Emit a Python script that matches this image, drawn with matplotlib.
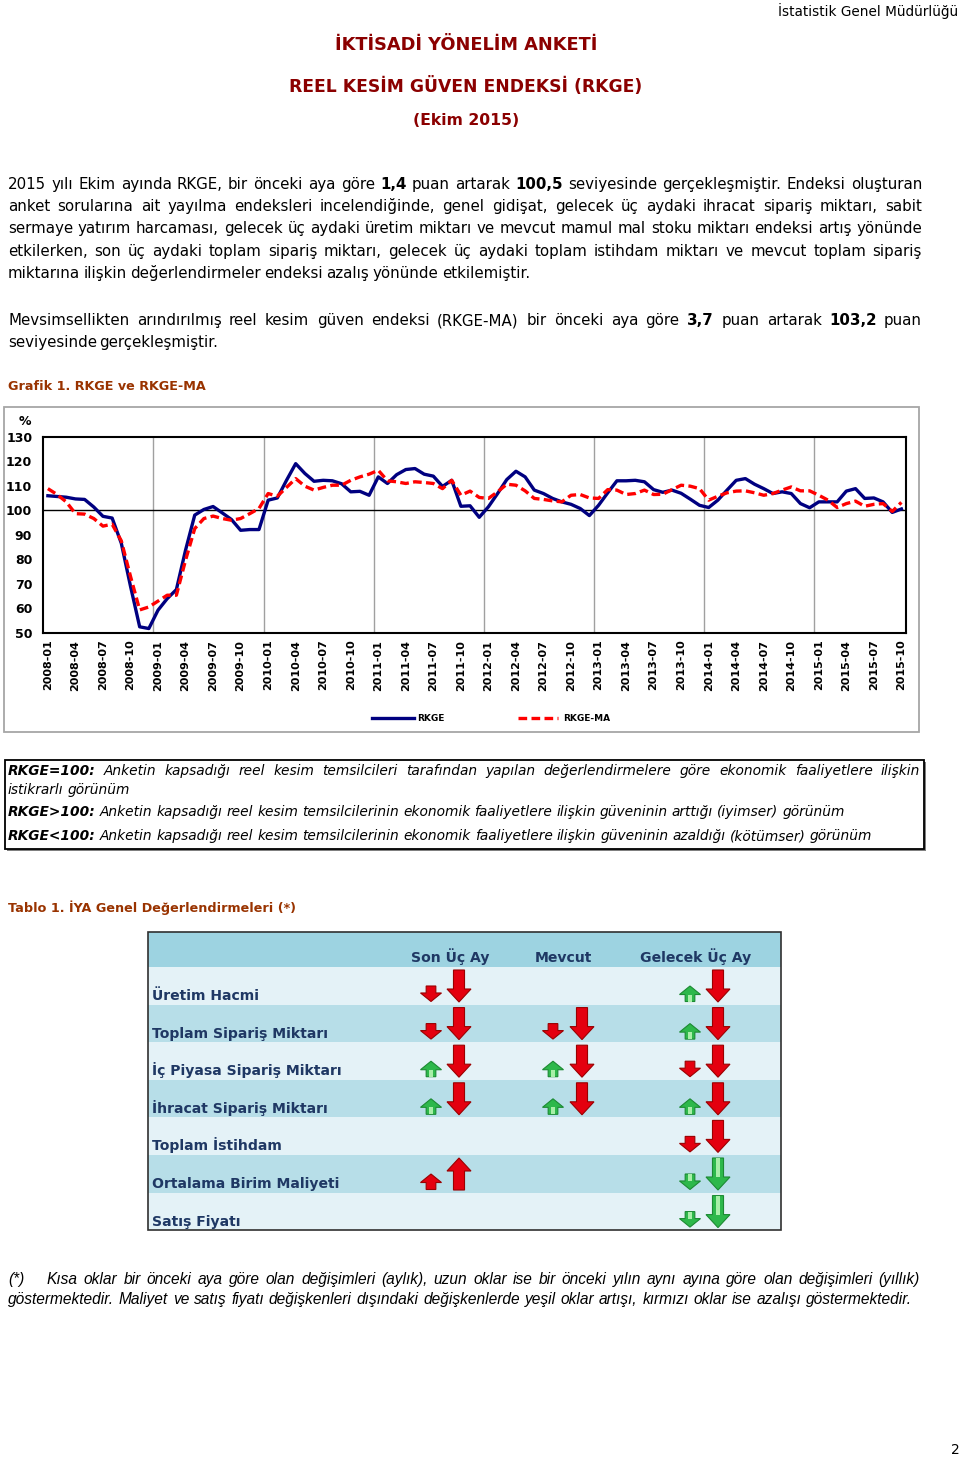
import matplotlib
matplotlib.use('Agg')
import matplotlib.pyplot as plt
from matplotlib.patches import Rectangle, Polygon
import pandas as pd

W, H = 960, 1458

# ---- chart data (2008-01 .. 2015-10) ----
months = pd.date_range('2008-01', periods=94, freq='MS').strftime('%Y-%m').tolist()
rkge = [105.9, 105.6, 105.3, 104.6, 104.4, 101.3, 97.5, 96.8, 86.5, 69.0,
        52.4, 51.7, 59.2, 63.9, 67.6, 83.7, 98.0, 100.3, 101.5, 98.9,
        96.2, 91.8, 92.1, 92.1, 104.1, 105.0, 112.2, 119.0, 115.0, 111.8,
        112.2, 112.0, 110.8, 107.5, 107.7, 106.1, 113.6, 110.9, 114.5, 116.6,
        117.0, 114.7, 113.9, 109.7, 112.2, 101.6, 101.8, 97.1, 101.4, 106.8,
        112.5, 115.9, 113.6, 108.2, 106.8, 104.8, 103.4, 102.4, 100.7, 97.8,
        102.0, 107.1, 112.0, 112.0, 112.2, 111.6, 108.4, 107.3, 108.2, 106.9,
        104.5, 102.0, 101.1, 104.1, 108.2, 112.2, 112.9, 110.6, 108.8, 106.8,
        107.5, 106.8, 102.7, 101.0, 103.4, 103.4, 103.4, 107.8, 108.8, 104.8,
        105.0, 103.4, 99.1, 100.5]
rkge_ma = [108.8, 106.4, 103.4, 98.6, 98.4, 96.6, 93.5, 94.3, 87.5, 73.0,
           59.3, 60.5, 62.9, 65.3, 65.3, 79.6, 92.5, 96.6, 97.6, 96.6,
           95.9, 96.6, 98.6, 100.7, 106.8, 105.7, 109.3, 112.9, 109.8, 108.2,
           109.3, 110.2, 110.2, 112.2, 113.6, 114.7, 116.3, 112.0, 111.6, 110.9,
           111.6, 111.3, 110.9, 108.8, 112.2, 106.1, 107.8, 105.2, 104.8, 107.5,
           110.6, 110.2, 107.9, 104.8, 104.4, 103.8, 103.4, 106.1, 106.4, 105.0,
           104.8, 108.4, 108.2, 106.4, 106.8, 108.2, 106.4, 106.5, 108.4, 110.2,
           109.8, 108.8, 104.1, 105.7, 107.1, 107.8, 107.9, 107.1, 106.1, 106.8,
           108.2, 109.5, 107.9, 107.9, 106.1, 104.1, 101.1, 102.7, 103.7, 101.6,
           102.4, 102.7, 99.5, 103.2]
y_ticks = [50, 60, 70, 80, 90, 100, 110, 120, 130]

# ---- table data: r/g = red/green, u/d = up/down, '' = no arrow ----
table_cols = ['Son Üç Ay', 'Mevcut', 'Gelecek Üç Ay']
table_rows = ['Üretim Hacmi', 'Toplam Sipariş Miktarı', 'İç Piyasa Sipariş Miktarı',
              'İhracat Sipariş Miktarı', 'Toplam İstihdam', 'Ortalama Birim Maliyeti',
              'Satış Fiyatı']
son_short = ['rd', 'rd', 'gu', 'gu', '', 'ru', '']
son_long = ['rd', 'rd', 'rd', 'rd', '', 'ru', '']
mevcut_short = ['', 'rd', 'gu', 'gu', '', '', '']
mevcut_long = ['', 'rd', 'rd', 'rd', '', '', '']
gelecek_short = ['gu', 'gu', 'rd', 'gu', 'rd', 'gd', 'gd']
gelecek_long = ['rd', 'rd', 'rd', 'rd', 'rd', 'gd', 'gd']

# ---- texts ----
para1 = ['2015 yılı Ekim ayında RKGE, bir önceki aya göre **1,4** puan artarak **100,5** seviyesinde gerçekleşmiştir. Endeksi oluşturan',
         'anket sorularına ait yayılma endeksleri incelendiğinde, genel gidişat, gelecek üç aydaki ihracat sipariş miktarı, sabit',
         'sermaye yatırım harcaması, gelecek üç aydaki üretim miktarı ve mevcut mamul mal stoku miktarı endeksi artış yönünde',
         'etkilerken, son üç aydaki toplam sipariş miktarı, gelecek üç aydaki toplam istihdam miktarı ve mevcut toplam sipariş',
         'miktarına ilişkin değerlendirmeler endeksi azalış yönünde etkilemiştir.']
para1_end = [922, 922, 922, 922, 530]
para2 = ['Mevsimsellikten arındırılmış reel kesim güven endeksi (RKGE-MA) bir önceki aya göre **3,7** puan artarak **103,2** puan',
         'seviyesinde gerçekleşmiştir.']
para2_end = [922, 218]
defs = ['**RKGE=100:** Anketin kapsadığı reel kesim temsilcileri tarafından yapılan değerlendirmelere göre ekonomik faaliyetlere ilişkin',
        'istikrarlı görünüm',
        '**RKGE>100:** Anketin kapsadığı reel kesim temsilcilerinin ekonomik faaliyetlere ilişkin güveninin arttığı (iyimser) görünüm',
        '**RKGE<100:** Anketin kapsadığı reel kesim temsilcilerinin ekonomik faaliyetlere ilişkin güveninin azaldığı (kötümser) görünüm']
defs_end = [920, 130, 845, 872]
foot1 = 'Kısa oklar bir önceki aya göre olan değişimleri (aylık), uzun oklar ise bir önceki yılın aynı ayına göre olan değişimleri (yıllık)'
foot2 = 'göstermektedir. Maliyet ve satış fiyatı değişkenleri dışındaki değişkenlerde yeşil oklar artışı, kırmızı oklar ise azalışı göstermektedir.'

TITLE_C = '#8B0000'
LABEL_C = '#993300'
NAVY_T = '#1F3864'

fig = plt.figure(figsize=(W / 100, H / 100), dpi=100)
bg = fig.add_axes([0, 0, 1, 1])
bg.set_xlim(0, W)
bg.set_ylim(H, 0)
bg.axis('off')
renderer = fig.canvas.get_renderer()


def width_of(s, **kw):
    t = bg.text(0, 0, s, **kw)
    w = t.get_window_extent(renderer).width
    t.remove()
    return w


def fit_size(s, target, **kw):
    return 10 * target / width_of(s, fontsize=10, **kw)


def tokens(line):
    out = []
    for tok in line.split():
        if tok.startswith('**') and tok.endswith('**'):
            out.append((tok[2:-2], 'bold'))
        else:
            out.append((tok, 'normal'))
    return out


def natural(line, size, **kw):
    toks = tokens(line)
    sp = width_of('a a', fontsize=size, **kw) - width_of('aa', fontsize=size, **kw)
    return sum(width_of(w, fontsize=size, fontweight=wt, **kw) for w, wt in toks) + sp * (len(toks) - 1)


def draw_line(line, x0, x1, yb, size, **kw):
    toks = tokens(line)
    arts = [bg.text(0, yb, w, fontsize=size, fontweight=wt, va='baseline', ha='left', **kw)
            for w, wt in toks]
    ws = [a.get_window_extent(renderer).width for a in arts]
    gap = (x1 - x0 - sum(ws)) / (len(arts) - 1) if len(arts) > 1 else 0
    x = x0
    for a, w in zip(arts, ws):
        a.set_x(x)
        x += w + gap


# ---- header ----
bg.text(958, 11, 'İstatistik Genel Müdürlüğü', ha='right', va='center',
        fontsize=fit_size('İstatistik Genel Müdürlüğü', 180))
for s, y, wd in [('İKTİSADİ YÖNELİM ANKETİ', 45, 262),
                 ('REEL KESİM GÜVEN ENDEKSİ (RKGE)', 86, 351),
                 ('(Ekim 2015)', 120, 106)]:
    bg.text(466, y, s, ha='center', va='center', color=TITLE_C, fontweight='bold',
            fontsize=fit_size(s, wd, fontweight='bold'))

# ---- paragraphs ----
p_size = min(10.8, 10 * 914 / natural(para1[0], 10))
for i, line in enumerate(para1):
    draw_line(line, 8, para1_end[i], 189 + i * 22.2, p_size)
for i, line in enumerate(para2):
    draw_line(line, 8, para2_end[i], 325 + i * 22.2, p_size)

lab_size = fit_size('Grafik 1. RKGE ve RKGE-MA', 197, fontweight='bold')
bg.text(8, 386, 'Grafik 1. RKGE ve RKGE-MA', va='center', color=LABEL_C,
        fontweight='bold', fontsize=lab_size)

# ---- chart ----
bg.add_patch(Rectangle((3.5, 407), 915.5, 325, fill=False, ec='#A6A6A6', lw=1.3))
ax = fig.add_axes([43.3 / W, 1 - 632.7 / H, (906 - 43.3) / W, (632.7 - 436.7) / H])
ax.set_zorder(2)
xs = list(range(len(months)))
for k in range(12, len(months), 12):
    ax.axvline(k - 0.5, color='#A0A0A0', lw=1, zorder=1)
ax.axhline(100, color='black', lw=1, zorder=2)
ax.plot(xs, rkge, color='#000080', lw=2.4, zorder=3)
ax.plot(xs, rkge_ma, color='#FF0000', lw=2.4, dashes=(2.6, 1.3), zorder=4)
ax.set_xlim(-0.5, len(months) - 0.5)
ax.set_ylim(50, 130)
ax.set_yticks(y_ticks)
ax.set_yticklabels([str(v) for v in y_ticks], fontweight='bold', fontsize=9)
ax.set_xticks(xs[::3])
ax.set_xticklabels(months[::3], rotation=90, fontweight='bold', fontsize=8)
ax.tick_params(length=0)
ax.tick_params(axis='y', pad=8)
ax.tick_params(axis='x', pad=5)
for sp in ax.spines.values():
    sp.set_linewidth(1.5)
bg.text(25, 421, '%', ha='center', va='center', fontweight='bold', fontsize=9)

bg.plot([372, 414], [718, 718], color='#000080', lw=2.4)
bg.text(417, 718, 'RKGE', va='center', fontweight='bold', fontsize=6.5)
bg.plot([518, 558], [718, 718], color='#FF0000', lw=2.4, dashes=(2.6, 1.3))
bg.text(563, 718, 'RKGE-MA', va='center', fontweight='bold', fontsize=6.5)

# ---- definitions box ----
bg.add_patch(Rectangle((7, 762), 919, 89, fc='#808080', ec='none', zorder=1))
bg.add_patch(Rectangle((5, 760), 919, 89, fc='white', ec='black', lw=1.3, zorder=2))
d_size = 10 * 837 / natural(defs[2], 10, style='italic')
for i, line in enumerate(defs):
    yb = [775, 794, 816, 840][i]
    draw_line(line, 8, defs_end[i], yb, d_size, style='italic', zorder=3)

# ---- table ----
bg.text(8, 908, 'Tablo 1. İYA Genel Değerlendirmeleri (*)', va='center', color=LABEL_C,
        fontweight='bold', fontsize=lab_size)
tx0, tx1, ty0 = 148, 781, 932
hdr_h, row_h = 35, 37.6
bg.add_patch(Rectangle((tx0, ty0), tx1 - tx0, hdr_h, fc='#9DD3E1', ec='none'))
for r in range(len(table_rows)):
    top = ty0 + hdr_h + r * row_h
    bg.add_patch(Rectangle((tx0, top), tx1 - tx0, row_h,
                           fc='#E4F2F7' if r % 2 == 0 else '#B7DEE8', ec='none'))
bg.add_patch(Rectangle((tx0, ty0), tx1 - tx0, hdr_h + len(table_rows) * row_h,
                       fill=False, ec='#303030', lw=1.2))

h_size = fit_size('Gelecek Üç Ay', 111, fontweight='bold')
for name, cx in zip(table_cols, [450, 563, 696]):
    bg.text(cx, 962, name, ha='center', va='baseline', color=NAVY_T,
            fontweight='bold', fontsize=h_size)
r_size = fit_size('İç Piyasa Sipariş Miktarı', 190, fontweight='bold')
for r, name in enumerate(table_rows):
    top = ty0 + hdr_h + r * row_h
    bg.text(152, top + 33, name, va='baseline', color=NAVY_T, fontweight='bold',
            fontsize=r_size)


def draw_arrow(code, cx, top, bottom, w):
    if not code:
        return
    col, d = code[0], code[1]
    h = bottom - top
    head = min(0.55 * h, 0.5 * w + 1)
    sw = 0.46 * w
    if d == 'd':
        tip, base, tail = bottom, bottom - head, top
    else:
        tip, base, tail = top, top + head, bottom
    pts = [(cx, tip), (cx + w / 2, base), (cx + sw / 2, base), (cx + sw / 2, tail),
           (cx - sw / 2, tail), (cx - sw / 2, base), (cx - w / 2, base)]
    if col == 'r':
        fc, ec = '#E4000F', '#9A0000'
    else:
        fc, ec = '#2DB84B', '#1C8A33'
    bg.add_patch(Polygon(pts, closed=True, fc=fc, ec=ec, lw=0.8, zorder=5))
    if col == 'g':
        iw = sw * 0.4
        y_a, y_b = sorted([base, tail])
        bg.add_patch(Rectangle((cx - iw / 2, y_a), iw, y_b - y_a, fc='#A8EFA8',
                               ec='none', zorder=6))


col_x = [(431, 459), (553, 582), (690, 718)]
shorts = [son_short, mevcut_short, gelecek_short]
longs = [son_long, mevcut_long, gelecek_long]
for c in range(3):
    for r in range(len(table_rows)):
        top = ty0 + hdr_h + r * row_h
        draw_arrow(shorts[c][r], col_x[c][0], top + 19, top + 34.5, 21)
        draw_arrow(longs[c][r], col_x[c][1], top + 3, top + 35, 24)

# ---- footnote ----
f_kw = dict(family='Liberation Sans', style='italic')
f_size = 10 * 904 / natural(foot2, 10, **f_kw)
draw_line('(*)', 8, 30, 1284, f_size, **f_kw)
draw_line(foot1, 47, 920, 1284, f_size, **f_kw)
draw_line(foot2, 8, 912, 1304, f_size, **f_kw)

bg.text(955, 1450, '2', ha='center', va='center', fontsize=10)

fig.savefig('out.png', dpi=100)
